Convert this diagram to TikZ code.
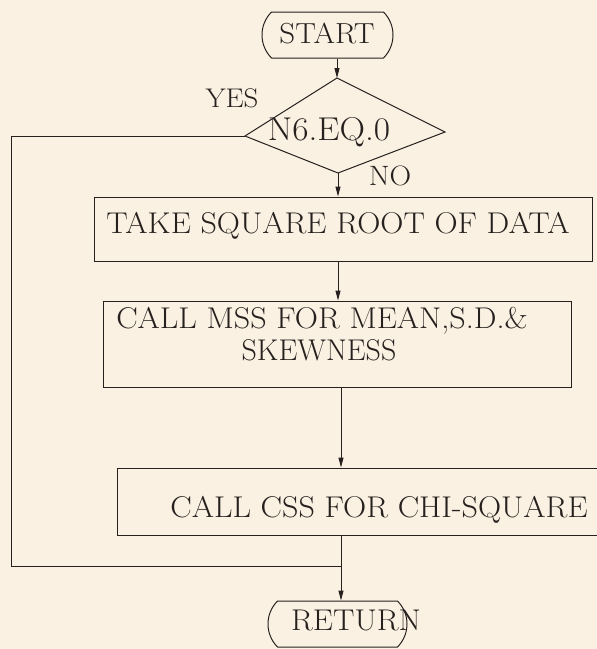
\documentclass[tikz,border=0pt]{standalone}
\usepackage{graphicx}
\usetikzlibrary{shapes.misc,arrows.meta,calc}
\definecolor{paper}{RGB}{250,241,226}
\definecolor{ink}{RGB}{38,33,30}
\newcommand{\widetext}[1]{\scalebox{1.07}[1]{#1}}
\begin{document}
\begin{tikzpicture}[x=1pt,y=-1pt,
  line/.style={draw=ink,line width=1pt},
  arr/.style={line,-{Triangle[length=10pt,width=5pt]}},
  term/.style={draw=ink,line width=1pt,rounded rectangle,rounded rectangle arc length=90,
    minimum height=46pt,inner sep=0pt},
  box/.style={draw=ink,line width=1pt,rectangle,inner sep=0pt},
  txt/.style={text=ink,inner sep=0pt,font=\fontsize{30}{33}\selectfont}]
\useasboundingbox (0,0) rectangle (597,649);
\fill[paper] (0,0) rectangle (597,649);
\clip (0,0) rectangle (597,649);

% terminals
\node[term,minimum width=131pt] (start) at (327.5,35) {};
\node[txt,anchor=base,font=\fontsize{29}{30}\selectfont] (starttext) at (327,43) {\widetext{START}};

% decision
\coordinate (dt) at (337,78);
\coordinate (dl) at (245,136);
\coordinate (db) at (338,173);
\coordinate (dr) at (445,132);
\draw[line] (dt) -- (dr) -- (db) -- (dl) -- cycle;
\node[txt,anchor=base,font=\fontsize{33}{35}\selectfont] (dec) at (329,140) {\widetext{N6.EQ.0}};
\node[txt,anchor=base,font=\fontsize{27}{30}\selectfont] (yes) at (232,107) {\widetext{YES}};
\node[txt,anchor=base,font=\fontsize{28}{30}\selectfont] (no) at (390,185) {\widetext{NO}};

% process boxes
\node[box,minimum width=498pt,minimum height=64pt] (take) at (343,229) {};
\node[txt,anchor=base] (taketext) at (338,233) {\widetext{TAKE SQUARE ROOT OF DATA}};

\node[box,minimum width=468pt,minimum height=86pt] (mss) at (337,344) {};
\node[txt,anchor=base] (msstext1) at (322,328) {\widetext{CALL MSS FOR MEAN,S.D.\&}};
\node[txt,anchor=base] (msstext2) at (319,360) {SKEWNESS};

\node[box,minimum width=508pt,minimum height=67pt] (css) at (371,501.5) {};
\node[txt,anchor=base] (csstext) at (379,517) {\widetext{CALL CSS FOR CHI-SQUARE}};

\node[term,minimum width=139pt] (ret) at (337.5,624) {};
\node[txt,anchor=base] (rettext) at (356,630) {\widetext{RETURN}};

% connectors
\coordinate (j) at (341,566);
\coordinate (lt) at (11,136);
\coordinate (lb) at (11,566);
\draw[arr] (start.south -| dt) -- (dt);
\draw[arr] (db) -- (db |- take.north);
\draw[arr] (take.south -| db) -- (mss.north -| db);
\draw[arr] (mss.south -| j) -- (css.north -| j);
\draw[line] (css.south -| j) -- (j);
\draw[line] (dl) -- (lt) -- (lb) -- (j);
\draw[arr] (j) -- (ret.north -| j);
\end{tikzpicture}
\end{document}
